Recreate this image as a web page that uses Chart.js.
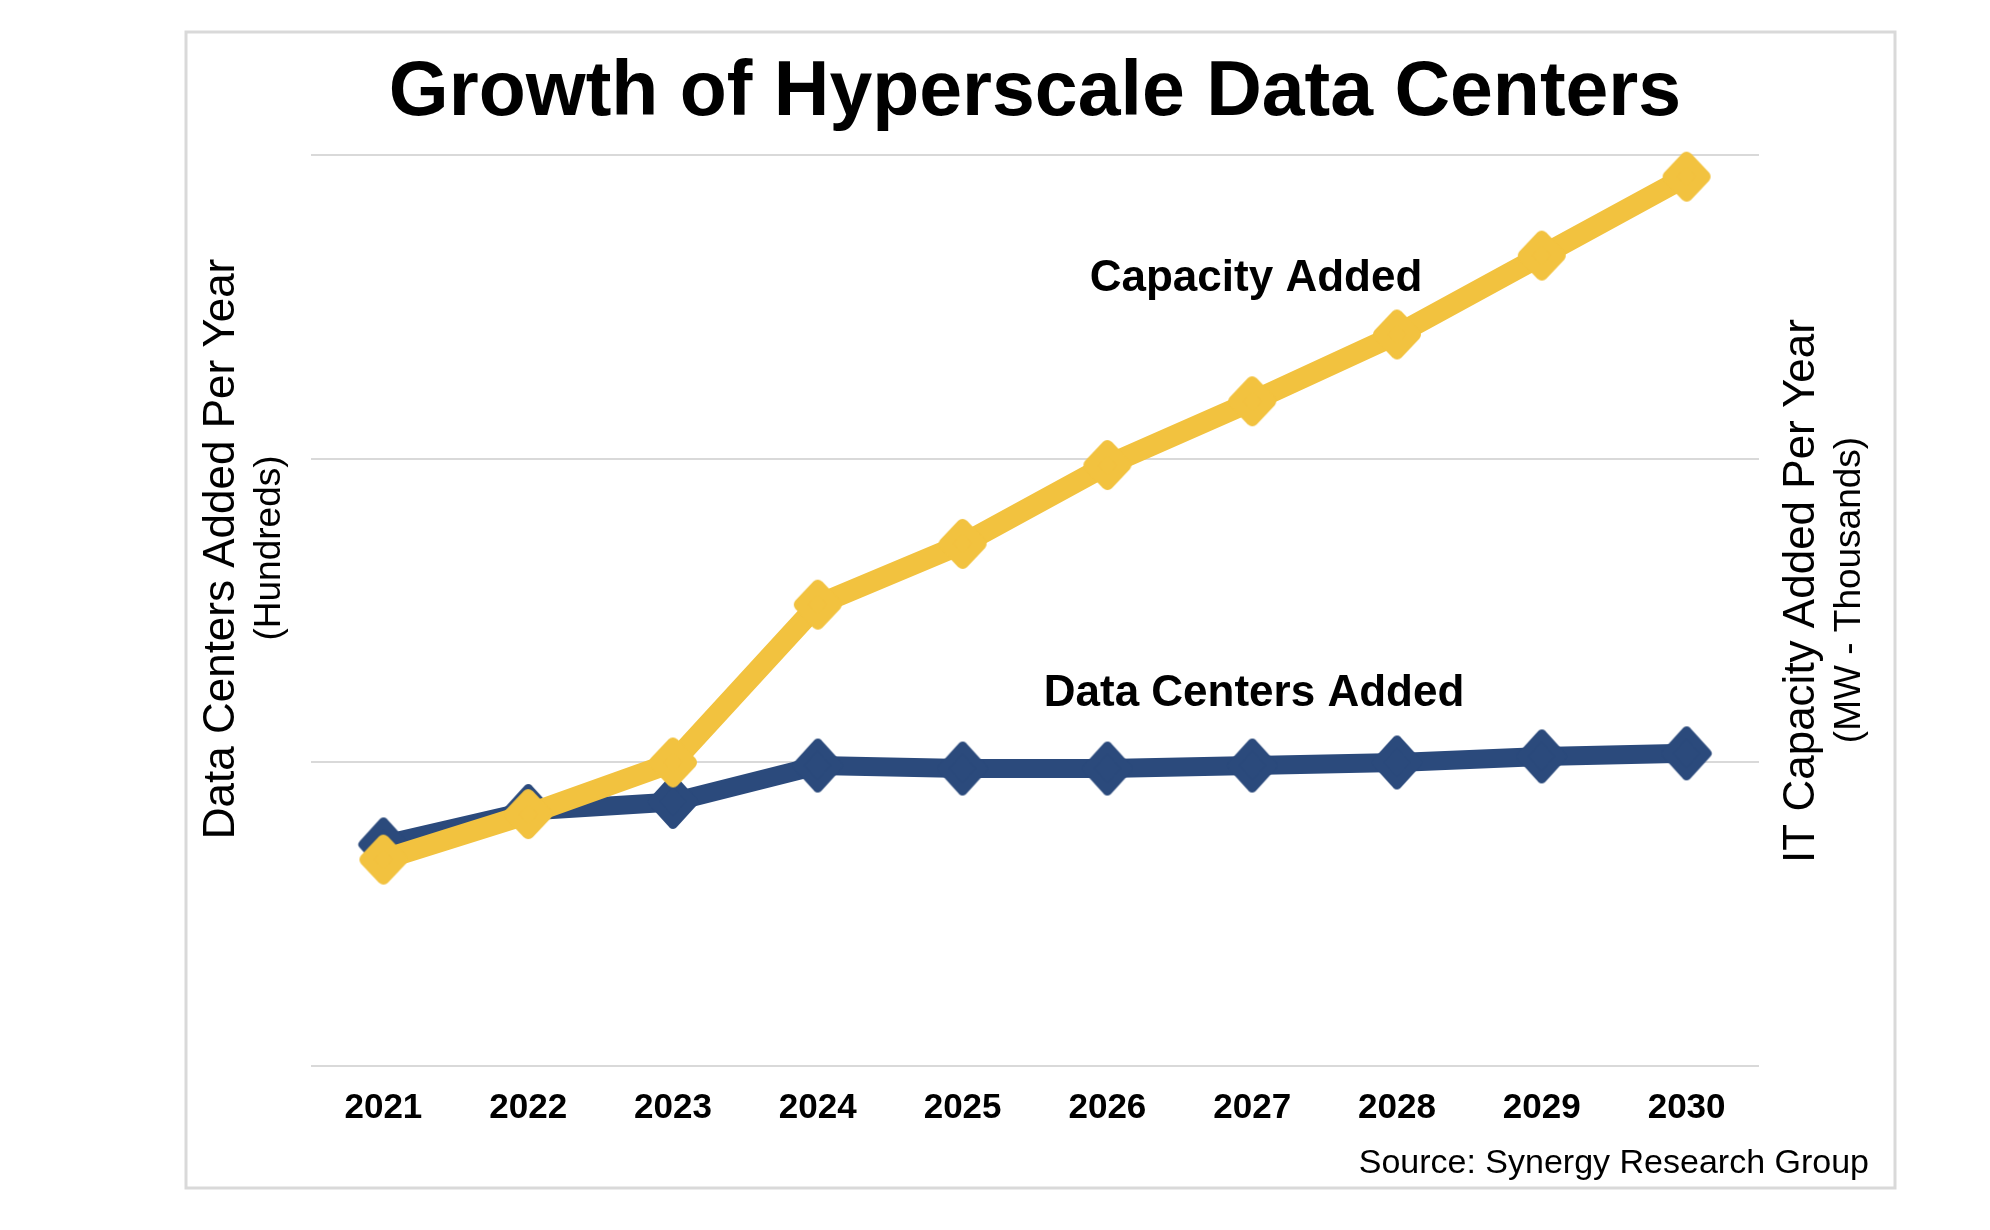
<!DOCTYPE html>
<html>
<head>
<meta charset="utf-8">
<title>Growth of Hyperscale Data Centers</title>
<script src="https://cdn.jsdelivr.net/npm/chart.js@4.4.1/dist/chart.umd.min.js"></script>
<style>
    html, body { margin: 0; padding: 0; background: #ffffff; }
    #wrap { width: 1990px; height: 1230px; }
</style>
</head>
<body>
<div id="wrap"><canvas id="growthChart" width="1990" height="1230"></canvas></div>
<script>
// Dữ liệu
const years = ['2021', '2022', '2023', '2024', '2025', '2026', '2027', '2028', '2029', '2030'];
// Data centers added per year (hundreds) - left axis, 0..3
const dataCentersAdded = [0.73, 0.84, 0.87, 0.99, 0.98, 0.98, 0.99, 1.00, 1.02, 1.03];
// IT capacity added per year (MW - thousands) - right axis, 0..30
const capacityAdded = [6.8, 8.3, 10.0, 15.2, 17.2, 19.8, 21.9, 24.1, 26.7, 29.3];
const leftTicks = [0, 1, 2, 3];
const rightTicks = [0, 10, 20, 30];

const FONT = "'Liberation Sans', Arial, Helvetica, sans-serif";
const BLUE = '#2b4a7c';
const YELLOW = '#f2c23f';
const GRID = '#d9d9d9';

// Marker hình thoi bo góc (vẽ sẵn ra canvas nhỏ)
function makeDiamond(color, halfW, halfH, round) {
    const c = document.createElement('canvas');
    c.width = halfW * 2 + 2;
    c.height = halfH * 2 + 2;
    const g = c.getContext('2d');
    const cx = c.width / 2, cy = c.height / 2;
    const w = halfW - round / 2, h = halfH - round / 2;
    g.beginPath();
    g.moveTo(cx, cy - h);
    g.lineTo(cx + w, cy);
    g.lineTo(cx, cy + h);
    g.lineTo(cx - w, cy);
    g.closePath();
    g.fillStyle = color;
    g.strokeStyle = color;
    g.lineWidth = round;
    g.lineJoin = 'round';
    g.fill();
    g.stroke();
    return c;
}

// Chữ tự vẽ: tiêu đề trục, nhãn đường, nguồn
function drawLabel(ctx, text, x, y, size, weight, rotate, align) {
    ctx.save();
    ctx.translate(x, y);
    if (rotate) ctx.rotate(-Math.PI / 2);
    ctx.font = weight + ' ' + size + 'px ' + FONT;
    ctx.fillStyle = '#000000';
    ctx.textAlign = align || 'center';
    ctx.textBaseline = 'middle';
    ctx.fillText(text, 0, 0);
    ctx.restore();
}

const framePlugin = {
    id: 'frame',
    beforeDraw(chart) {
        const ctx = chart.ctx;
        ctx.save();
        ctx.fillStyle = '#ffffff';
        ctx.fillRect(0, 0, chart.width, chart.height);
        ctx.strokeStyle = GRID;
        ctx.lineWidth = 3;
        ctx.strokeRect(186, 32, 1709, 1156);
        ctx.restore();
    },
    afterDraw(chart) {
        const ctx = chart.ctx;
        // Trục trái
        drawLabel(ctx, 'Data Centers Added Per Year', 222, 549, 44, 'normal', true);
        drawLabel(ctx, '(Hundreds)', 270, 548, 37, 'normal', true);
        // Trục phải
        drawLabel(ctx, 'IT Capacity Added Per Year', 1802, 591, 44, 'normal', true);
        drawLabel(ctx, '(MW - Thousands)', 1850, 590, 37, 'normal', true);
        // Nhãn đường
        drawLabel(ctx, 'Capacity Added', 1256, 279, 44, 'bold', false);
        drawLabel(ctx, 'Data Centers Added', 1254, 694, 44, 'bold', false);
        // Nguồn
        drawLabel(ctx, 'Source: Synergy Research Group', 1869, 1164, 34, 'normal', false, 'right');
    }
};

const ctx = document.getElementById('growthChart').getContext('2d');
new Chart(ctx, {
    type: 'line',
    data: {
        labels: years,
        datasets: [
            {
                label: 'Capacity Added',
                data: capacityAdded,
                yAxisID: 'y1',
                order: 0,
                borderColor: YELLOW,
                backgroundColor: YELLOW,
                borderWidth: 21,
                borderJoinStyle: 'round',
                pointStyle: makeDiamond(YELLOW, 24, 25, 12),
                clip: false
            },
            {
                label: 'Data Centers Added',
                data: dataCentersAdded,
                yAxisID: 'y',
                order: 1,
                borderColor: BLUE,
                backgroundColor: BLUE,
                borderWidth: 19,
                borderJoinStyle: 'round',
                pointStyle: makeDiamond(BLUE, 25, 27, 10),
                clip: false
            }
        ]
    },
    options: {
        responsive: false,
        animation: false,
        devicePixelRatio: 1,
        layout: { padding: { left: 311, right: 231, top: 0, bottom: 80 } },
        plugins: {
            legend: { display: false },
            tooltip: { enabled: false },
            title: {
                display: true,
                text: 'Growth of Hyperscale Data Centers',
                color: '#000000',
                font: { family: FONT, size: 77, weight: 'bold' },
                padding: { top: 48, bottom: 15 }
            }
        },
        scales: {
            x: {
                offset: true,
                grid: { display: false, drawTicks: false },
                border: { display: false },
                ticks: {
                    color: '#000000',
                    padding: 21,
                    maxRotation: 0,
                    font: { family: FONT, size: 35, weight: 'bold' }
                }
            },
            y: {
                position: 'left',
                min: leftTicks[0],
                max: leftTicks[leftTicks.length - 1],
                afterBuildTicks: axis => { axis.ticks = leftTicks.map(v => ({ value: v })); },
                grid: { color: GRID, lineWidth: 2, drawTicks: false },
                border: { display: false },
                ticks: { display: false }
            },
            y1: {
                position: 'right',
                display: false,
                min: rightTicks[0],
                max: rightTicks[rightTicks.length - 1],
                afterBuildTicks: axis => { axis.ticks = rightTicks.map(v => ({ value: v })); }
            }
        }
    },
    plugins: [framePlugin]
});
</script>
</body>
</html>
